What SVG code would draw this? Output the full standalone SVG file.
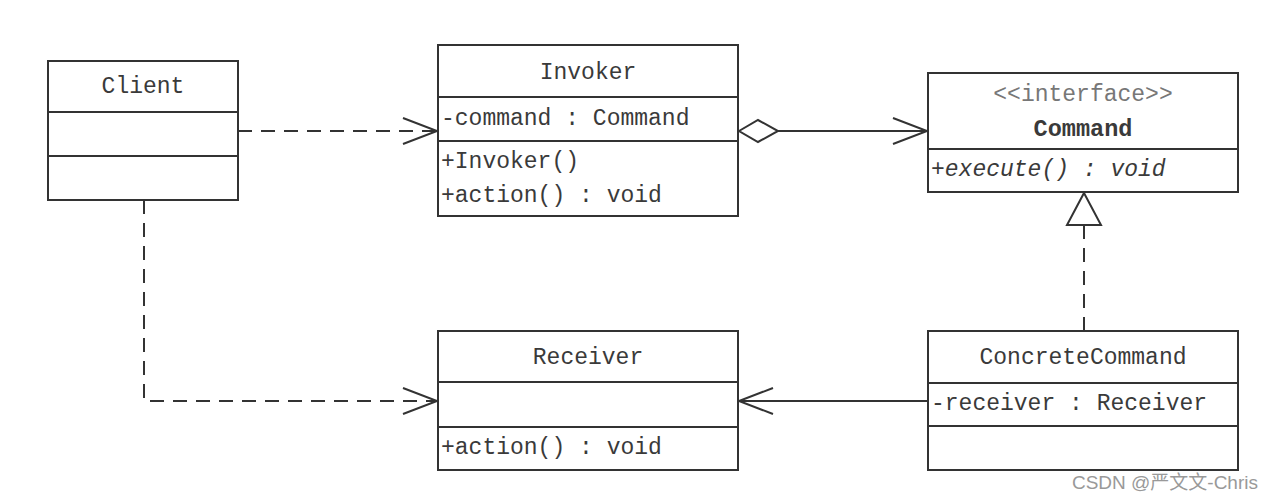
<svg xmlns="http://www.w3.org/2000/svg" width="1274" height="500" viewBox="0 0 1274 500">
<style>
.box{fill:#fff;stroke:#333;stroke-width:2}
.div{stroke:#333;stroke-width:2}
.t{font-family:"Liberation Mono",monospace;font-size:23px;fill:#3a3a3a}
.c{text-anchor:middle}
.st{fill:#777}
.ln{fill:none;stroke:#333;stroke-width:2}
.dash{stroke-dasharray:14,9}
.wm{font-family:"Liberation Sans","Noto Sans CJK SC",sans-serif;font-size:19px;fill:#999}
</style>
<defs>
<marker id="open" markerWidth="40" markerHeight="30" refX="36" refY="15" orient="auto" markerUnits="userSpaceOnUse">
<path d="M2,2 L36,15 L2,28" fill="none" stroke="#333" stroke-width="2"/>
</marker>
</defs>
<rect width="1274" height="500" fill="#fff"/>
<g id="connectors">
<line class="ln dash" x1="238" y1="131" x2="437" y2="131" marker-end="url(#open)"/>
<polyline class="ln dash" points="144,200 144,401 437,401" marker-end="url(#open)"/>
<path class="ln" d="M739,131 L758,120 L778,131 L758,142 Z"/>
<line class="ln" x1="778" y1="131" x2="927" y2="131" marker-end="url(#open)"/>
<line class="ln dash" x1="1084" y1="331" x2="1084" y2="226"/>
<path class="ln" d="M1084,193 L1101,225 L1067,225 Z"/>
<line class="ln" x1="928" y1="401" x2="739" y2="401" marker-end="url(#open)"/>
</g>
<g id="client">
<rect class="box" x="48" y="61" width="190" height="139"/>
<line class="div" x1="48" y1="112" x2="238" y2="112"/>
<line class="div" x1="48" y1="156" x2="238" y2="156"/>
<text class="t c" x="143" y="93">Client</text>
</g>
<g id="invoker">
<rect class="box" x="438" y="45" width="300" height="171"/>
<line class="div" x1="438" y1="97" x2="738" y2="97"/>
<line class="div" x1="438" y1="141" x2="738" y2="141"/>
<text class="t c" x="588" y="79">Invoker</text>
<text class="t" x="441" y="125">-command : Command</text>
<text class="t" x="441" y="168">+Invoker()</text>
<text class="t" x="441" y="202">+action() : void</text>
</g>
<g id="command">
<rect class="box" x="928" y="73" width="310" height="119"/>
<line class="div" x1="928" y1="149" x2="1238" y2="149"/>
<text class="t c st" x="1083" y="101">&lt;&lt;interface&gt;&gt;</text>
<text class="t c" x="1083" y="136" font-weight="bold" textLength="99" lengthAdjust="spacingAndGlyphs">Command</text>
<text class="t" x="931" y="176" font-style="italic">+execute() : void</text>
</g>
<g id="receiver">
<rect class="box" x="438" y="331" width="300" height="139"/>
<line class="div" x1="438" y1="382" x2="738" y2="382"/>
<line class="div" x1="438" y1="427" x2="738" y2="427"/>
<text class="t c" x="588" y="364">Receiver</text>
<text class="t" x="441" y="454">+action() : void</text>
</g>
<g id="concretecommand">
<rect class="box" x="928" y="331" width="310" height="139"/>
<line class="div" x1="928" y1="383" x2="1238" y2="383"/>
<line class="div" x1="928" y1="426" x2="1238" y2="426"/>
<text class="t c" x="1083" y="364">ConcreteCommand</text>
<text class="t" x="931" y="410">-receiver : Receiver</text>
</g>
<text class="wm" x="1258" y="489" text-anchor="end">CSDN @严文文-Chris</text>
</svg>
